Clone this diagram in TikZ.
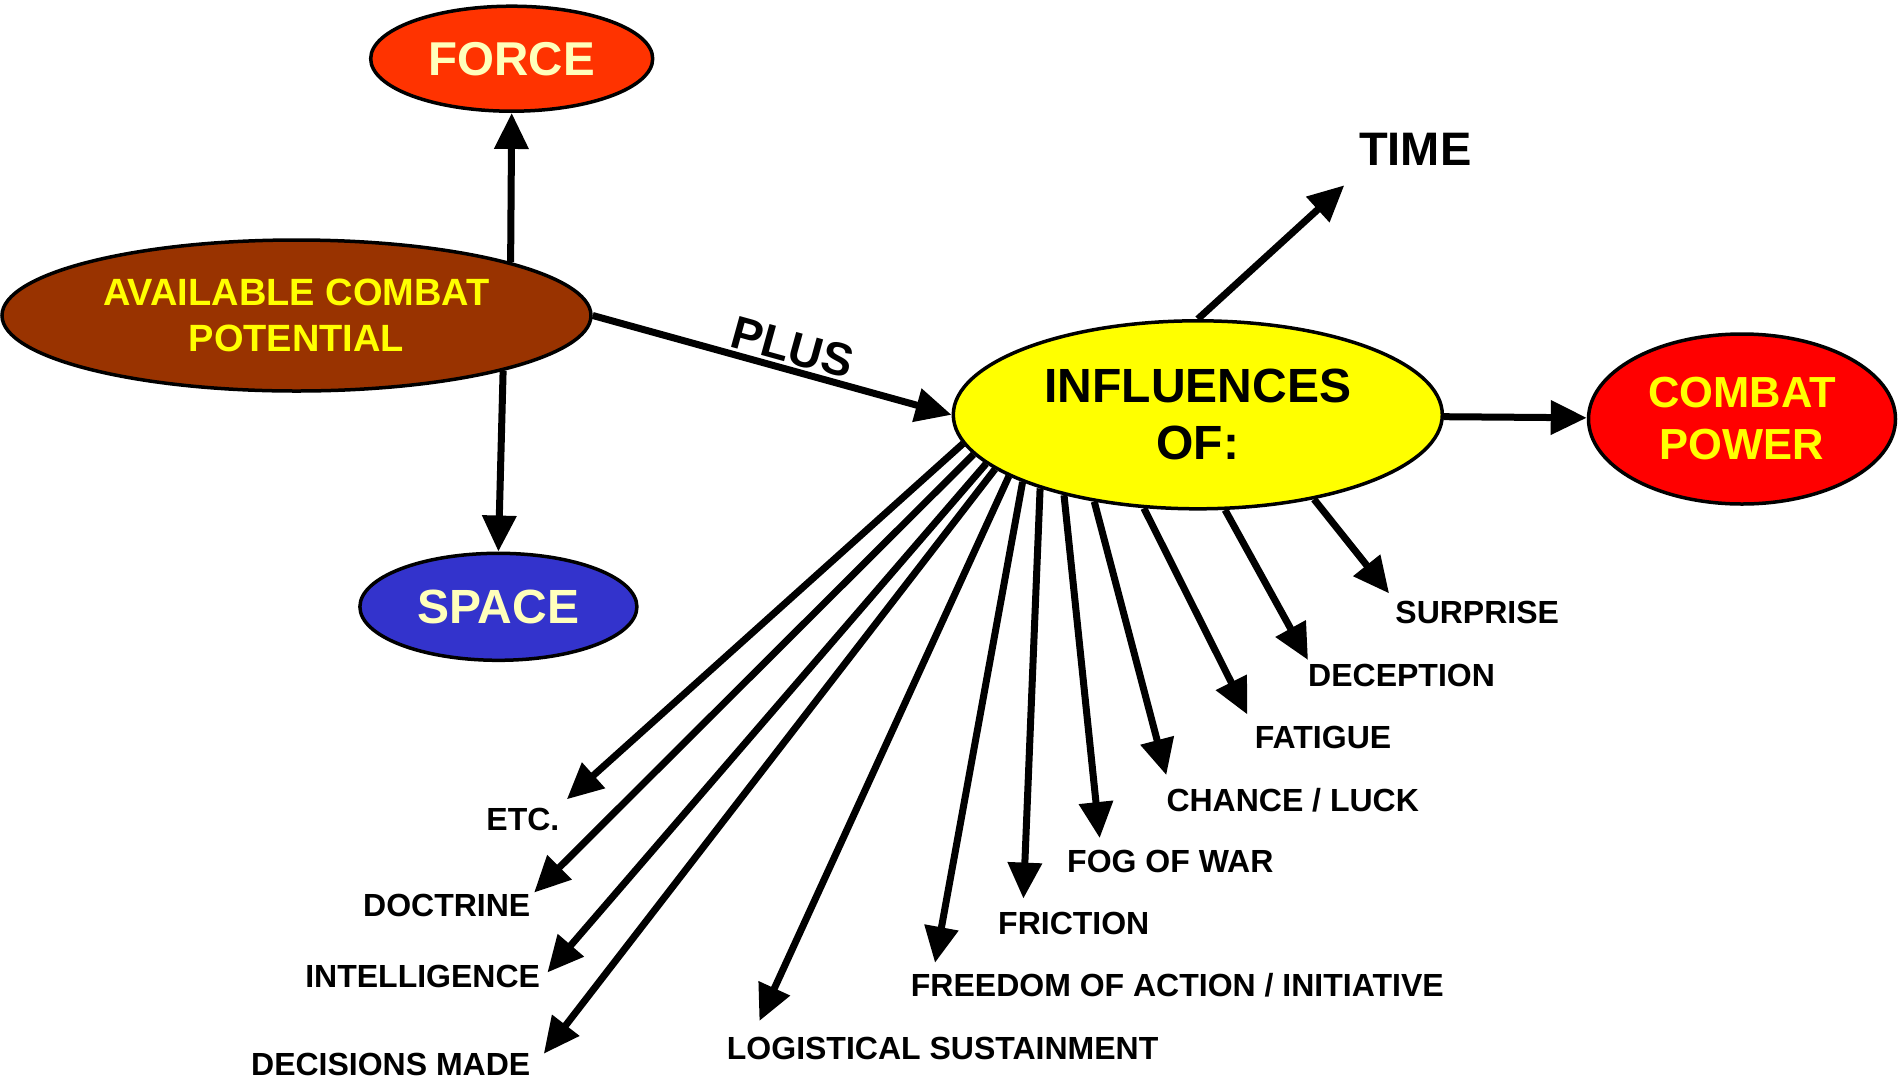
\documentclass[tikz,border=0pt]{standalone}
\usepackage{fontspec}
\setmainfont{Liberation Sans}
\usetikzlibrary{arrows.meta,backgrounds,shapes.geometric}
\definecolor{forcefill}{HTML}{FF3300}
\definecolor{acpfill}{HTML}{993300}
\definecolor{spacefill}{HTML}{3333CC}
\definecolor{inflfill}{HTML}{FFFF00}
\definecolor{cpfill}{HTML}{FF0000}
\definecolor{cream}{HTML}{FFFFBB}
\definecolor{brighty}{HTML}{FFFF00}
\begin{document}
\begin{tikzpicture}[x=1pt,y=-1pt,
  bub/.style={ellipse,draw=black,line width=3.5pt,inner sep=0pt,align=center},
  arr/.style={line width=7pt,-{Triangle[length=36pt,width=33pt]}},
  lab/.style={inner sep=0pt,font=\fontsize{32}{36}\selectfont\bfseries},
]
\useasboundingbox (0,0) rectangle (1899,1080);
\begin{pgfonlayer}{background}
\fill[white] (0,0) rectangle (1899,1080);
\end{pgfonlayer}

% bubbles
\node[bub,fill=forcefill,minimum width=282pt,minimum height=105pt,text=cream,
      font=\fontsize{47.5}{57}\selectfont\bfseries] (force) at (511.7,58.7) {FORCE};
\node[bub,fill=acpfill,minimum width=589pt,minimum height=151pt,text=brighty,
      font=\fontsize{38}{46}\selectfont\bfseries] (acp) at (296.5,315.5) {AVAILABLE COMBAT\\POTENTIAL};
\node[bub,fill=spacefill,minimum width=277pt,minimum height=107pt,text=cream,
      font=\fontsize{48}{56}\selectfont\bfseries] (space) at (498.4,606.8) {SPACE};
\node[bub,fill=inflfill,minimum width=489pt,minimum height=188pt,text=black,
      font=\fontsize{48}{57}\selectfont\bfseries] (infl) at (1197.8,414.8) {INFLUENCES\\OF:};
\node[bub,fill=cpfill,minimum width=307pt,minimum height=170pt,text=brighty,
      font=\fontsize{43.5}{52}\selectfont\bfseries] (cp) at (1742,419) {COMBAT\\POWER};

% free labels
\node[inner sep=0pt,anchor=base,font=\fontsize{47}{56}\selectfont\bfseries] (time) at (1415.2,165.6) {TIME};
\node[lab,anchor=base west] (surprise) at (1395.2,623.4) {SURPRISE};
\node[lab,anchor=base west] (deception) at (1308,686.3) {DECEPTION};
\node[lab,anchor=base west] (fatigue) at (1254.7,748.1) {FATIGUE};
\node[lab,anchor=base west] (chance) at (1166.3,811.1) {CHANCE / LUCK};
\node[lab,anchor=base west] (fog) at (1067,872.8) {FOG OF WAR};
\node[lab,anchor=base west] (friction) at (998,934.6) {FRICTION};
\node[lab,anchor=base west] (freedom) at (910.7,996.4) {FREEDOM OF ACTION / INITIATIVE};
\node[lab,anchor=base west] (logist) at (726.7,1059.3) {LOGISTICAL SUSTAINMENT};
\node[lab,anchor=base east] (decis) at (530.5,1075) {DECISIONS MADE};
\node[lab,anchor=base east] (intel) at (540.2,987.9) {INTELLIGENCE};
\node[lab,anchor=base east] (doctr) at (530.5,916.4) {DOCTRINE};
\node[lab,anchor=base east] (etc) at (559.5,830.4) {ETC.};

% arrow tips
\coordinate (tTime) at (1344.3,185.3);
\coordinate (tSurprise) at (1389.1,593.4);
\coordinate (tDeception) at (1308,660);
\coordinate (tFatigue) at (1247.4,714.5);
\coordinate (tChance) at (1166.3,775.1);
\coordinate (tFog) at (1099.7,838.1);
\coordinate (tFriction) at (1023.4,898.6);
\coordinate (tFreedom) at (935,962.8);
\coordinate (tLogist) at (759.4,1021);
\coordinate (tDecis) at (543.8,1053.7);
\coordinate (tIntel) at (547.4,972.5);
\coordinate (tDoctr) at (534.1,892.6);
\coordinate (tEtc) at (566.8,799.3);

\path (acp.east) -- (infl.west)
  node[pos=0.54,sloped,above,inner sep=6pt,font=\fontsize{46.5}{54}\selectfont\bfseries] (plus) {PLUS};

\begin{pgfonlayer}{background}
\draw[arr] (acp.14.5) -- (force.south);
\draw[arr] (acp.345.2) -- (space.north);
\draw[arr] (acp.east) -- (infl.west);
\draw[arr] (infl.north) -- (tTime);
\draw[arr] (infl) -- (cp);
\draw[arr] (infl.324.4) -- (tSurprise);
\draw[arr] (infl.286.5) -- (tDeception);
\draw[arr] (infl.240.4) -- (tFatigue);
\draw[arr] (infl.220.4) -- (tChance);
\draw[arr] (infl.211) -- (tFog);
\draw[arr] (infl.205.6) -- (tFriction);
\draw[arr] (infl.201.8) -- (tFreedom);
\draw[arr] (infl.198.2) -- (tLogist);
\draw[arr] (infl.195.6) -- (tDecis);
\draw[arr] (infl.193.1) -- (tIntel);
\draw[arr] (infl.190.7) -- (tDoctr);
\draw[arr] (infl.187.8) -- (tEtc);
\end{pgfonlayer}
\end{tikzpicture}
\end{document}
